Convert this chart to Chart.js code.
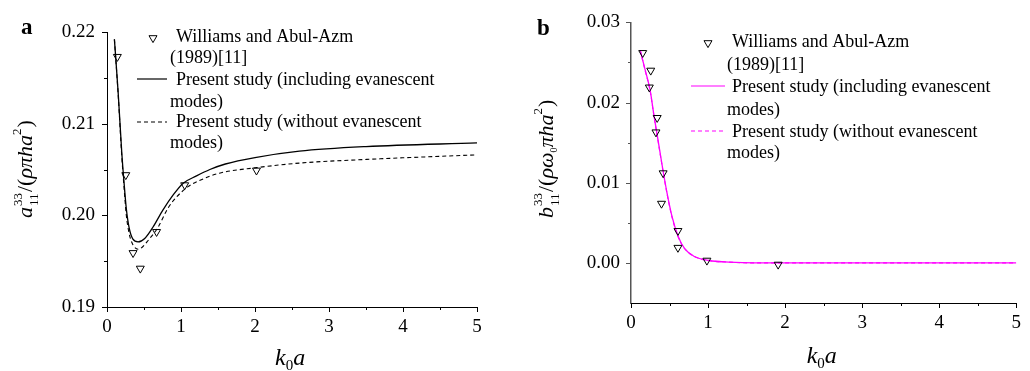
<!DOCTYPE html>
<html><head><meta charset="utf-8">
<script src="https://cdn.jsdelivr.net/npm/chart.js@4.4.0/dist/chart.umd.min.js"></script>
<style>
html,body{margin:0;padding:0;background:#fff;}
#wrap{position:relative;width:1030px;height:371px;overflow:hidden;}
.p{position:absolute;top:0;width:515px;height:371px;}
</style></head><body>
<div id="wrap">
<div class="p" style="left:0"><canvas id="ca" width="515" height="371"></canvas></div>
<div class="p" style="left:515px"><canvas id="cb" width="515" height="371"></canvas></div>
</div>
<script>
// ---------- data ----------
const xTicks = [0, 1, 2, 3, 4, 5];
const xMinor = [0.5, 1.5, 2.5, 3.5, 4.5];
const aTicks = [0.19, 0.20, 0.21, 0.22];
const aMinor = [0.195, 0.205, 0.215];
const bTicks = [0.00, 0.01, 0.02, 0.03];
const bMinor = [0.005, 0.015, 0.025];

const legendLines = ["Williams and Abul-Azm", "(1989)[11]", "Present study (including evanescent", "modes)", "Present study (without evanescent", "modes)"];

// panel a: Williams and Abul-Azm (1989)
const aExpX = [0.14, 0.254, 0.352, 0.45, 0.67, 1.05, 2.02];
const aExpY = [0.2173, 0.2044, 0.1959, 0.1942, 0.1982, 0.2033, 0.2049];
// panel a: including evanescent modes
const aIncX = [0.10, 0.15, 0.20, 0.23, 0.26, 0.30, 0.35, 0.42, 0.51, 0.62, 0.757, 0.892, 1.03, 1.21, 1.39, 1.60, 2.00, 2.60, 3.50, 5.00];
const aIncY = [0.2192, 0.2135, 0.2068, 0.2036, 0.2008, 0.1986, 0.1974, 0.1971, 0.19748, 0.1987, 0.2006, 0.2022, 0.2035, 0.2043, 0.2050, 0.2056, 0.2063, 0.2070, 0.2075, 0.2079];
// panel a: without evanescent modes
const aWoX = [0.10, 0.15, 0.20, 0.23, 0.26, 0.30, 0.35, 0.42, 0.58, 0.69, 0.825, 0.94, 1.09, 1.25, 1.52, 2.02, 2.60, 3.51, 5.00];
const aWoY = [0.2192, 0.2133, 0.2064, 0.2031, 0.2001, 0.1980, 0.1968, 0.1963, 0.1975, 0.1987, 0.2008, 0.2020, 0.2031, 0.2038, 0.2046, 0.2052, 0.2057, 0.2061, 0.2066];

// panel b
const bExpX = [0.152, 0.256, 0.238, 0.34, 0.324, 0.417, 0.396, 0.609, 0.609, 0.985, 1.91];
const bExpY = [0.0262, 0.0240, 0.0219, 0.0181, 0.0163, 0.0112, 0.0074, 0.0040, 0.0019, 0.0003, -0.0002];
const bIncX = [0.12, 0.183, 0.247, 0.298, 0.353, 0.409, 0.468, 0.532, 0.609, 0.694, 0.822, 1.01, 1.27, 1.60, 2.50, 5.00];
const bIncY = [0.0265, 0.0241, 0.0216, 0.0184, 0.0152, 0.0119, 0.0087, 0.0058, 0.0034, 0.0018, 0.0008, 0.0003, 0.0001, 0.0000, 0.0000, 0.0000];
const bWoX = [0.12, 0.183, 0.247, 0.298, 0.353, 0.409, 0.468, 0.532, 0.609, 0.694, 0.822, 1.01, 1.27, 1.60, 2.50, 5.00];
const bWoY = [0.0265, 0.0240, 0.0215, 0.0183, 0.0151, 0.0118, 0.0086, 0.0057, 0.0033, 0.0018, 0.0008, 0.0003, 0.0001, 0.0000, 0.0000, 0.0000];

// ---------- helpers ----------
const SERIF = "'Liberation Serif', 'Times New Roman', serif";
Chart.defaults.font.family = SERIF;
Chart.defaults.color = '#000';
const pts = (xs, ys) => xs.map((x, i) => ({x: x, y: ys[i]}));

function drawRich(ctx, parts, x, y, rotate) {
  ctx.save();
  ctx.translate(x, y);
  if (rotate) ctx.rotate(-Math.PI / 2);
  ctx.textBaseline = 'alphabetic';
  ctx.textAlign = 'left';
  ctx.fillStyle = '#000';
  let cx = 0;
  for (const p of parts) {
    if (p.stack) {
      ctx.font = p.f;
      const w1 = ctx.measureText(p.sup).width, w2 = ctx.measureText(p.sub).width;
      ctx.fillText(p.sup, cx, p.supDy);
      ctx.fillText(p.sub, cx, p.subDy);
      cx += Math.max(w1, w2) + (p.gap || 0);
    } else {
      ctx.font = p.f;
      ctx.fillText(p.t, cx, p.dy || 0);
      cx += ctx.measureText(p.t).width + (p.gap || 0);
    }
  }
  ctx.restore();
  return cx;
}

function triangleDown(ctx, x, y, r) {
  ctx.beginPath();
  ctx.moveTo(x - r * 0.87, y - r * 0.5);
  ctx.lineTo(x + r * 0.87, y - r * 0.5);
  ctx.lineTo(x, y + r);
  ctx.closePath();
  ctx.stroke();
}

function makePanel(id, cfg) {
  const plugin = {
    id: 'extras' + id,
    afterDraw(chart) {
      const ctx = chart.ctx;
      const xs = chart.scales.x, ys = chart.scales.y;
      const area = chart.chartArea;
      ctx.save();
      ctx.lineWidth = 1;
      ctx.strokeStyle = '#000';
      const xb = area.bottom;
      for (const v of xTicks) { const px = Math.round(xs.getPixelForValue(v)) + 0.5; ctx.beginPath(); ctx.moveTo(px, xb); ctx.lineTo(px, xb + 5); ctx.stroke(); }
      for (const v of xMinor) { const px = Math.round(xs.getPixelForValue(v)) + 0.5; ctx.beginPath(); ctx.moveTo(px, xb); ctx.lineTo(px, xb + 3); ctx.stroke(); }
      ctx.strokeStyle = cfg.yColor;
      const yl = area.left;
      for (const v of cfg.yTicks) { const py = Math.round(ys.getPixelForValue(v)) + 0.5; ctx.beginPath(); ctx.moveTo(yl, py); ctx.lineTo(yl - 5, py); ctx.stroke(); }
      for (const v of cfg.yMinor) { const py = Math.round(ys.getPixelForValue(v)) + 0.5; ctx.beginPath(); ctx.moveTo(yl, py); ctx.lineTo(yl - 3, py); ctx.stroke(); }
      ctx.restore();

      ctx.save();
      ctx.fillStyle = '#000';
      ctx.font = 'bold 23px ' + SERIF;
      ctx.textBaseline = 'alphabetic';
      ctx.fillText(cfg.letter, cfg.letterX, cfg.letterY);
      ctx.restore();

      const cxm = (area.left + area.right) / 2;
      drawRich(ctx, [
        {t: 'k', f: 'italic 24px ' + SERIF},
        {t: '0', f: '15px ' + SERIF, dy: 5},
        {t: 'a', f: 'italic 24px ' + SERIF}
      ], cxm - 17, cfg.xTitleY, false);

      drawRich(ctx, cfg.yTitle, cfg.yTitleX, cfg.yTitleY, true);

      ctx.save();
      const L = cfg.leg;
      ctx.strokeStyle = '#000';
      ctx.lineWidth = 1;
      triangleDown(ctx, L.mx, L.my, 4.6);
      ctx.strokeStyle = cfg.lineColor;
      ctx.lineWidth = 1.2;
      ctx.beginPath(); ctx.moveTo(L.l0, L.ys); ctx.lineTo(L.l1, L.ys); ctx.stroke();
      ctx.setLineDash([4, 3]);
      ctx.beginPath(); ctx.moveTo(L.l0, L.yd); ctx.lineTo(L.l1, L.yd); ctx.stroke();
      ctx.setLineDash([]);
      ctx.fillStyle = '#000';
      ctx.font = '18px ' + SERIF;
      ctx.textBaseline = 'middle';
      legendLines.forEach((s, i) => {
        const x = (i % 2 === 0) ? L.tx : L.tx2;
        ctx.fillText(s, x, L.rows[i]);
      });
      ctx.restore();
    }
  };

  return new Chart(document.getElementById(id), {
    type: 'scatter',
    data: {
      datasets: [
        {data: cfg.exp, showLine: false, pointStyle: 'triangle', rotation: 180, pointRadius: 4.6,
         borderColor: '#000', backgroundColor: 'rgba(0,0,0,0)', pointBorderWidth: 1, borderWidth: 1},
        {data: cfg.inc, showLine: true, pointRadius: 0, borderColor: cfg.lineColor, borderWidth: 1.3,
         cubicInterpolationMode: 'monotone', fill: false},
        {data: cfg.wo, showLine: true, pointRadius: 0, borderColor: cfg.lineColor, borderWidth: 1.1,
         borderDash: [4, 3], cubicInterpolationMode: 'monotone', fill: false}
      ]
    },
    options: {
      responsive: false, animation: false, devicePixelRatio: 1,
      layout: {padding: {left: 0, right: cfg.padR, top: cfg.padT, bottom: 0}},
      plugins: {legend: {display: false}, tooltip: {enabled: false}},
      scales: {
        x: {
          type: 'linear', min: 0, max: 5,
          afterFit(s) { s.height = cfg.xH; },
          afterBuildTicks(s) { s.ticks = xTicks.map(v => ({value: v})); },
          grid: {display: false, drawTicks: false},
          border: {display: true, color: '#000', width: 1},
          ticks: {padding: 9, font: {size: 19}, color: '#000', maxRotation: 0, autoSkip: false,
                  callback: v => String(v)}
        },
        y: {
          type: 'linear', min: cfg.yMin, max: cfg.yMax,
          afterFit(s) { s.width = cfg.yW; },
          afterBuildTicks(s) { s.ticks = cfg.yTicks.map(v => ({value: v})); },
          grid: {display: false, drawTicks: false},
          border: {display: true, color: cfg.yColor, width: cfg.yBorderW},
          ticks: {padding: cfg.yPad, font: {size: 19}, color: '#000', autoSkip: false,
                  callback: v => Number(v).toFixed(2)}
        }
      }
    },
    plugins: [plugin]
  });
}

makePanel('ca', {
  exp: pts(aExpX, aExpY), inc: pts(aIncX, aIncY), wo: pts(aWoX, aWoY),
  lineColor: '#000', yColor: '#000', yBorderW: 1,
  yMin: 0.19, yMax: 0.22, yTicks: aTicks, yMinor: aMinor,
  padR: 38, padT: 32, xH: 64, yW: 107, yPad: 12,
  letter: 'a', letterX: 21, letterY: 34,
  xTitleY: 365,
  yTitleX: 32, yTitleY: 218,
  yTitle: [
    {t: 'a', f: 'italic 22px ' + SERIF, gap: 1},
    {stack: true, sup: '33', sub: '11', f: '13px ' + SERIF, supDy: -10, subDy: 6, gap: 1},
    {t: '/(', f: '22px ' + SERIF},
    {t: 'ρπha', f: 'italic 22px ' + SERIF},
    {t: '2', f: '13px ' + SERIF, dy: -11, gap: 1},
    {t: ')', f: '22px ' + SERIF}
  ],
  leg: {mx: 153, my: 38, l0: 137, l1: 167, ys: 79, yd: 122, tx: 176, tx2: 170,
        rows: [37, 58, 80, 102, 122, 143]}
});

makePanel('cb', {
  exp: pts(bExpX, bExpY), inc: pts(bIncX, bIncY), wo: pts(bWoX, bWoY),
  lineColor: '#ff00ff', yColor: '#555', yBorderW: 1.5,
  yMin: -0.005, yMax: 0.03, yTicks: bTicks, yMinor: bMinor,
  padR: 8, padT: 14, xH: 68, yW: 116, yPad: 11,
  letter: 'b', letterX: 22, letterY: 35,
  xTitleY: 363,
  yTitleX: 38, yTitleY: 218,
  yTitle: [
    {t: 'b', f: 'italic 22px ' + SERIF, gap: 1},
    {stack: true, sup: '33', sub: '11', f: '13px ' + SERIF, supDy: -11, subDy: 6, gap: 1},
    {t: '/(', f: '22px ' + SERIF},
    {t: 'ρω', f: 'italic 22px ' + SERIF},
    {t: '0', f: '10px ' + SERIF, dy: 4},
    {t: 'πha', f: 'italic 22px ' + SERIF},
    {t: '2', f: '13px ' + SERIF, dy: -11, gap: 1},
    {t: ')', f: '22px ' + SERIF}
  ],
  leg: {mx: 193, my: 43, l0: 176, l1: 210, ys: 86, yd: 131, tx: 217, tx2: 212,
        rows: [42, 65, 87, 110, 132, 153]}
});
</script>
</body></html>
